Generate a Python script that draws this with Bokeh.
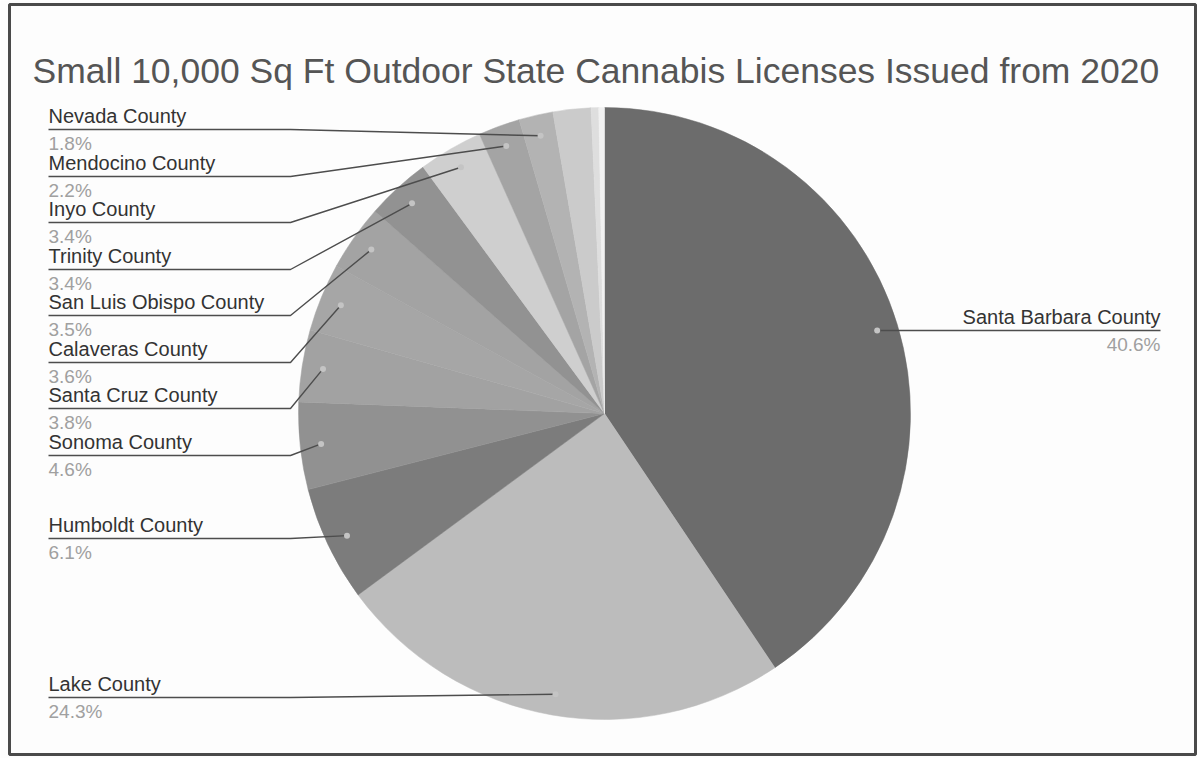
import math
from bokeh.plotting import figure
from bokeh.models import Range1d, ColumnDataSource, Label
from bokeh.core.properties import value
from bokeh.embed import file_html
from bokeh.resources import INLINE

# ---------------- data ----------------
categories = ["Santa Barbara County", "Lake County", "Humboldt County", "Sonoma County",
              "Santa Cruz County", "Calaveras County", "San Luis Obispo County",
              "Trinity County", "Inyo County", "Mendocino County", "Nevada County",
              "Other 1", "Other 2", "Other 3"]
shares = [40.6, 24.3, 6.1, 4.6, 3.8, 3.6, 3.5, 3.4, 3.4, 2.2, 1.8, 2.0, 0.4, 0.3]
labelled = [True] * 11 + [False] * 3
colors = ["#6c6c6c", "#bcbcbc", "#7c7c7c", "#919191", "#a2a2a2", "#a6a6a6", "#a3a3a3",
          "#929292", "#cfcfcf", "#a4a4a4", "#b3b3b3", "#cbcbcb", "#dedede", "#f1f1f1"]

# ---------------- layout ----------------
W, H = 1197, 758
CX, CY, R = 604, 413, 306          # pie centre / radius in page pixels
DOT_R = 285
left_label_rows = {                # underline y (page pixels) for left-hand labels
    "Nevada County": 129, "Mendocino County": 176, "Inyo County": 222,
    "Trinity County": 269, "San Luis Obispo County": 315, "Calaveras County": 362,
    "Santa Cruz County": 408, "Sonoma County": 455, "Humboldt County": 538,
    "Lake County": 697,
}
LEFT_X, ELBOW_X = 48, 290
RIGHT_X = 1160
NAME_OFF = 14
PCT_OFF = 3


def Y(py):
    return H - py


p = figure(width=W, height=H, output_backend="svg", toolbar_location=None,
           x_range=Range1d(0, W), y_range=Range1d(0, H), min_border=0)
p.axis.visible = False
p.grid.visible = False
p.outline_line_color = None
p.background_fill_color = "#fdfdfd"
p.border_fill_color = "#fdfdfd"

# wedges (clockwise from 12 o'clock)
total = sum(shares)
starts, ends, mids = [], [], []
acc = 0.0
for v in shares:
    a0 = acc / total
    acc += v
    a1 = acc / total
    starts.append(90 - a1 * 360)
    ends.append(90 - a0 * 360)
    mids.append((a0 + a1) / 2)

src = ColumnDataSource(dict(cat=categories, share=shares, start=starts, end=ends, color=colors))
p.wedge(x=CX, y=Y(CY), radius=R, start_angle="start", end_angle="end",
        start_angle_units="deg", end_angle_units="deg",
        fill_color="color", line_color="color", line_width=0.5, source=src)

# labels & leader lines
lx, ly, dx, dy = [], [], [], []
rows = {"left": dict(x=[], y=[], t=[], px=[], py=[], pt=[]),
        "right": dict(x=[], y=[], t=[], px=[], py=[], pt=[])}
for cat, v, m, show in zip(categories, shares, mids, labelled):
    if not show:
        continue
    ang = m * 2 * math.pi
    px = CX + DOT_R * math.sin(ang)
    py = CY - DOT_R * math.cos(ang)
    dx.append(px); dy.append(Y(py))
    if cat in left_label_rows:
        row = left_label_rows[cat]
        lx.append([LEFT_X, ELBOW_X, px]); ly.append([Y(row), Y(row), Y(py)])
        side, tx = "left", LEFT_X
    else:
        row = py
        lx.append([px, RIGHT_X]); ly.append([Y(row), Y(row)])
        side, tx = "right", RIGHT_X
    d = rows[side]
    d["x"].append(tx); d["y"].append(Y(row - NAME_OFF)); d["t"].append(cat)
    d["px"].append(tx); d["py"].append(Y(row + PCT_OFF)); d["pt"].append(f"{v}%")

p.multi_line(xs=lx, ys=ly, line_color="#4d4d4d", line_width=1.4)
p.scatter(x=dx, y=dy, size=6, fill_color="#c4c4c4", line_color=None)

font = value("Liberation Sans")
for side in ("left", "right"):
    d = rows[side]
    p.text(x=d["x"], y=d["y"], text=d["t"], text_font=font, text_font_size="20px",
           text_color="#333333", text_align=side, text_baseline="alphabetic")
    p.text(x=d["px"], y=d["py"], text=d["pt"], text_font=font, text_font_size="19px",
           text_color="#a0a0a0", text_align=side, text_baseline="top")

# title
p.add_layout(Label(x=32, y=Y(70), text="Small 10,000 Sq Ft Outdoor State Cannabis Licenses Issued from 2020",
                   text_font="Liberation Sans", text_font_size="35.5px", text_color="#555555",
                   text_baseline="alphabetic"))

# scanned frame border
p.quad(left=[9], right=[1195], bottom=[Y(754)], top=[Y(4)], fill_color=None,
       line_color="#4a4a4a", line_width=3)

open("out.html", "w").write(file_html(p, INLINE))
